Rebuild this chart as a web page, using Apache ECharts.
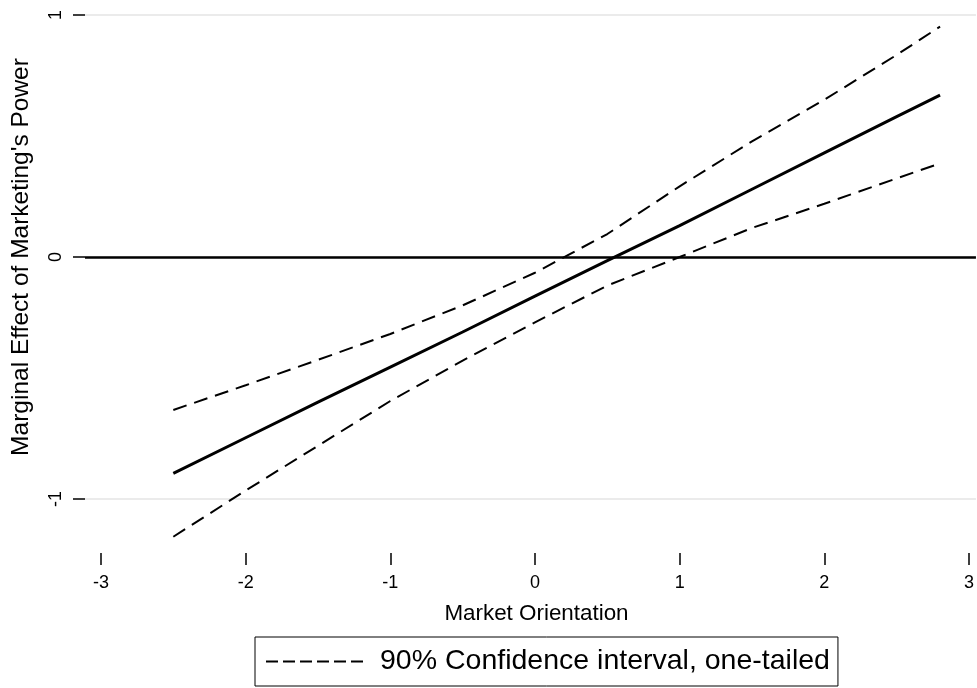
<!DOCTYPE html>
<html><head><meta charset="utf-8">
<script src="https://cdn.jsdelivr.net/npm/echarts@6/dist/echarts.min.js"></script>
<style>html,body{margin:0;padding:0;background:#fff}#c{width:977px;height:688px}</style>
</head><body><div id="c"></div>
<script>
// Market Orientation values at which the marginal effect is plotted
const xValues = [-2.5, -2, -1.5, -1, -0.5, 0, 0.5, 1, 1.5, 2, 2.5, 2.8];
// Marginal effect of marketing's power
const effect  = [-0.894, -0.747, -0.600, -0.455, -0.310, -0.162, -0.015, 0.130, 0.280, 0.430, 0.580, 0.669];
// 90% confidence interval bounds (one-tailed)
const upperCI = [-0.632, -0.530, -0.425, -0.318, -0.200, -0.065, 0.095, 0.292, 0.478, 0.650, 0.835, 0.952];
const lowerCI = [-1.156, -0.965, -0.780, -0.595, -0.428, -0.270, -0.118, 0.000, 0.120, 0.220, 0.325, 0.387];
const xTicks = [-3, -2, -1, 0, 1, 2, 3];
const yTicks = [-1, 0, 1];
const ciName = '90% Confidence interval, one-tailed';
const xTitle = 'Market Orientation';
const yTitle = "Marginal Effect of Marketing's Power";

const font = '"Liberation Sans", Arial, Helvetica, sans-serif';
const pairs = ys => xValues.map((x, i) => [x, ys[i]]);
const chart = echarts.init(document.getElementById('c'), null, {renderer: 'canvas'});
const dashed = {color: '#000', width: 2, type: [14, 8]};

chart.setOption({
  animation: false,
  backgroundColor: '#fff',
  textStyle: {fontFamily: font},
  grid: {left: 85, right: 0, top: 15, bottom: 189, containLabel: false},
  xAxis: {
    type: 'value', min: -3.1105, max: 3.048, offset: 54,
    axisLine: {show: false, onZero: false},
    axisTick: {show: true, length: 12, customValues: xTicks, lineStyle: {color: '#000', width: 1.5}},
    axisLabel: {customValues: xTicks, margin: 21, fontSize: 18, color: '#000', fontFamily: font},
    splitLine: {show: false},
    name: xTitle, nameLocation: 'middle', nameGap: 50,
    nameTextStyle: {fontSize: 22.4, color: '#000', fontFamily: font, padding: [0, 0, 0, 12]}
  },
  yAxis: {
    type: 'value', min: yTicks[0], max: yTicks[yTicks.length - 1], interval: 1,
    axisLine: {show: false, onZero: false},
    axisTick: {show: true, length: 12, lineStyle: {color: '#000', width: 1.5}},
    axisLabel: {rotate: 90, margin: 20, fontSize: 18, color: '#000', fontFamily: font},
    splitLine: {show: true, lineStyle: {color: '#ebebeb', width: 2}},
    name: yTitle, nameLocation: 'middle', nameGap: 51,
    nameTextStyle: {fontSize: 24.5, color: '#000', fontFamily: font}
  },
  legend: {
    data: [ciName], left: 255, top: 637, orient: 'horizontal',
    itemWidth: 98, itemHeight: 14, itemGap: 0,
    borderColor: '#000', borderWidth: 1, borderRadius: 0,
    padding: [10, 8, 10, 10], selectedMode: false,
    itemStyle: {opacity: 0},
    lineStyle: {color: '#000', width: 2, type: [12, 5]},
    textStyle: {fontSize: 28.5, color: '#000', fontFamily: font, padding: [0, 0, 0, 11]}
  },
  series: [
    {
      type: 'line', name: 'Marginal effect', data: pairs(effect),
      symbol: 'none', showSymbol: false, clip: false, z: 4,
      lineStyle: {color: '#000', width: 3},
      markLine: {
        silent: true, symbol: 'none', label: {show: false},
        lineStyle: {color: '#000', width: 2.5, type: 'solid'},
        data: [{yAxis: 0}]
      }
    },
    {
      type: 'line', name: ciName, data: pairs(upperCI),
      symbol: 'none', showSymbol: false, clip: false, z: 3,
      lineStyle: dashed, itemStyle: {color: '#000'}
    },
    {
      type: 'line', name: ciName, data: pairs(lowerCI),
      symbol: 'none', showSymbol: false, clip: false, z: 3,
      lineStyle: dashed, itemStyle: {color: '#000'}
    }
  ]
});
</script></body></html>
